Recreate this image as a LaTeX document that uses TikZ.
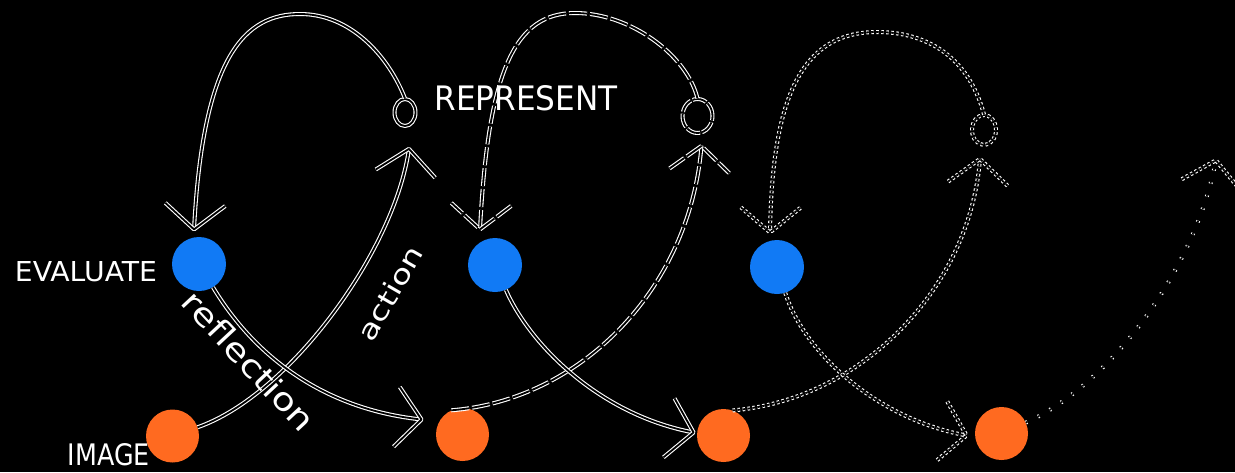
\documentclass[tikz,border=0pt]{standalone}
\usepackage{fontspec}
\usepackage{graphicx}
\setmainfont{DejaVu Sans}
\usetikzlibrary{shapes.geometric,decorations.markings,calc}
\definecolor{evalblue}{RGB}{17,122,245}
\definecolor{imgorange}{RGB}{255,106,32}

\begin{document}
\begin{tikzpicture}[x=1pt,y=-1pt,
  chalk/.style={draw=white, line width=1.1pt, double=black, double distance=1.8pt, line join=round},
  chalkfresh/.style={chalk},
  chalkworn/.style={chalk, dash pattern=on 18pt off 3pt},
  chalkfaded/.style={chalk, dash pattern=on 2.5pt off 2.5pt},
  chalkghost/.style={chalk, dash pattern=on 1.5pt off 12pt},
  barb/.style={postaction={decorate, decoration={markings,
      mark=at position 0.999 with {\draw[#1] (-25pt,30pt) -- (0pt,0pt) -- (-25pt,-30pt);}}}},
  evaldot/.style={circle, fill=evalblue, minimum size=54pt, inner sep=0pt},
  imgdot/.style={circle, fill=imgorange, minimum size=53pt, inner sep=0pt},
  repmark/.style={ellipse, inner sep=0pt},
  caption/.style={text=white, inner sep=0pt},
]
% canvas
\fill[black] (0,0) rectangle (1235,472);
\path[use as bounding box] (0,0) rectangle (1235,472);

% evaluate stations
\node[evaldot] (E1) at (199,264) {};
\node[evaldot] (E2) at (495,265) {};
\node[evaldot] (E3) at (777,267) {};

% image stations
\node[imgdot] (I1) at (172.5,436) {};
\node[imgdot] (I2) at (462.5,434.5) {};
\node[imgdot] (I3) at (723.5,435.5) {};
\node[imgdot] (I4) at (1001.5,433.5) {};

% represent marks
\node[repmark, chalkfresh, minimum width=21pt, minimum height=27pt] (R1) at (405,112.5) {};
\node[repmark, chalkworn, dash pattern=on 14pt off 2pt, minimum width=30pt, minimum height=34pt] (R2) at (697.5,116) {};
\node[repmark, chalkfaded, minimum width=24pt, minimum height=30pt] (R3) at (984,130) {};

% free end of the last action stroke
\coordinate (T4) at (1216,160);

% represent -> evaluate loops
\draw[chalkfresh, barb=chalkfresh] (R1.north) .. controls (388,55) and (350,14) .. (300,14)
  .. controls (245,14) and (203,55) .. ($(E1.north)+(-5,-7)$);
\draw[chalkworn, barb=chalkworn] (R2.north) .. controls (687,55) and (630,13) .. (575,13)
  .. controls (515,13) and (488,70) .. ($(E2.north)+(-15,-8)$);
\draw[chalkfaded, barb=chalkfaded] (R3.north) .. controls (968,55) and (925,32) .. (877,32)
  .. controls (800,32) and (772,100) .. ($(E3.north)+(-7,-7)$);

% action: image -> represent
\draw[chalkfresh, barb=chalkfresh] (I1) .. controls (290,395) and (395,250) .. ($(R1.south)+(4,22)$);
\draw[chalkworn, barb=chalkworn] (I2.115) .. controls (580,400) and (690,290) .. ($(R2.south)+(4,12)$);
\draw[chalkfaded, barb=chalkfaded] (I3.70) .. controls (860,400) and (970,290) .. ($(R3.south)+(-4,13)$);
\draw[chalkghost, barb=chalkfaded] (I4) .. controls (1110,385) and (1195,270) .. (T4);

% reflection: evaluate -> image
\draw[chalkfresh, barb=chalkfresh] (E1) .. controls (258,362) and (330,410) .. ($(I2.west)+(-14,-15)$);
\draw[chalkfresh, barb=chalkfresh] (E2) .. controls (530,345) and (600,415) .. ($(I3.west)+(-3,-3)$);
\draw[chalkfaded, barb=chalkfaded] (E3) .. controls (805,355) and (880,420) .. ($(I4.west)+(-8,2)$);

% labels
\node[caption] (evalText) at (86,272) {\resizebox{142pt}{20pt}{EVALUATE}};
\node[caption] (imgText) at (109,455) {\resizebox{82pt}{22pt}{IMAGE}};
\node[caption] (repText) at (526,98) {\resizebox{183pt}{25pt}{REPRESENT}};
\node[caption, rotate=-47] (reflText) at (249,361) {\resizebox{178pt}{24pt}{reflection}};
\node[caption, rotate=60] (actText) at (390,293) {\resizebox{105pt}{20pt}{action}};
\end{tikzpicture}
\end{document}
